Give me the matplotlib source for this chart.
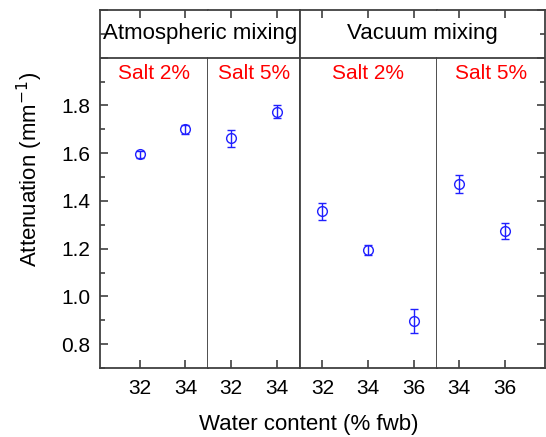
import numpy as np
import matplotlib.pyplot as plt
from matplotlib.ticker import MultipleLocator, FuncFormatter

plt.rcParams["font.family"] = ["Liberation Sans", "DejaVu Sans"]

# ---- data ----
groups = ["Atmospheric mixing", "Vacuum mixing"]
panel_labels = ["Salt 2%", "Salt 5%", "Salt 2%", "Salt 5%"]
water = [[32, 34], [32, 34], [32, 34, 36], [34, 36]]
atten = [[1.595, 1.700], [1.662, 1.774], [1.357, 1.195, 0.898], [1.470, 1.275]]
atten_err = [[0.015, 0.020], [0.035, 0.027], [0.035, 0.022, 0.050], [0.038, 0.033]]
xlims = [(30.25, 35), (31, 35), (31, 37), (33, 37.75)]

Y_LO, Y_HEAD, Y_TOP = 0.7, 2.0, 2.2
spine_c = "#404040"

fig, axes = plt.subplots(
    1, 4, figsize=(5.46, 4.37), dpi=100, sharey=True,
    gridspec_kw={"width_ratios": [hi - lo for lo, hi in xlims], "wspace": 0},
)
fig.subplots_adjust(left=0.183, right=0.998, top=0.977, bottom=0.158)

for i, ax in enumerate(axes):
    ax.errorbar(water[i], atten[i], yerr=atten_err[i], fmt="o", mfc="none",
                mec="#2020ff", ecolor="#2020ff", ms=7, mew=1.0, elinewidth=1.0,
                capsize=3, capthick=1.0, zorder=3)
    ax.set_xlim(*xlims[i])
    ax.set_ylim(Y_LO, Y_TOP)
    ax.xaxis.set_major_locator(MultipleLocator(2))
    ax.tick_params(axis="x", which="both", direction="in", top=True,
                   labelsize=15, length=6, width=1.2, color=spine_c, pad=8)
    ax.tick_params(axis="y", which="both", direction="in", left=(i == 0),
                   right=(i == 3), labelsize=15, width=1.2, color=spine_c, pad=7)
    ax.tick_params(axis="y", which="major", length=6)
    ax.tick_params(axis="y", which="minor", length=3.5)
    for s in ax.spines.values():
        s.set_color(spine_c)
        s.set_linewidth(1.3)
    ax.axhline(Y_HEAD, color=spine_c, lw=1.3, zorder=4)
    ax.text(np.mean(xlims[i]), 1.935, panel_labels[i], color="red",
            fontsize=15, ha="center", va="center")

axes[0].yaxis.set_major_locator(MultipleLocator(0.2))
axes[0].yaxis.set_minor_locator(MultipleLocator(0.1))
axes[0].yaxis.set_major_formatter(
    FuncFormatter(lambda v, p: f"{v:.1f}" if v < 1.85 else ""))

# inner dividers (1|2 and 3|4) stop at the header line
frac = (Y_HEAD - Y_LO) / (Y_TOP - Y_LO)
for a, b in [(0, 1), (2, 3)]:
    axes[a].spines["right"].set_visible(False)
    axes[b].spines["left"].set_visible(False)
    axes[a].axvline(xlims[a][1], ymin=0, ymax=frac, color=spine_c,
                    lw=1.3, clip_on=False, zorder=5)

# header labels
fig.canvas.draw()
for g, (a, b) in zip(groups, [(0, 1), (2, 3)]):
    x0 = axes[a].get_position().x0
    x1 = axes[b].get_position().x1
    yh = axes[0].transData.transform((0, 2.1))[1]
    yh = fig.transFigure.inverted().transform((0, yh))[1]
    fig.text((x0 + x1) / 2, yh, g, fontsize=16, ha="center", va="center")

fig.text(0.055, 0.611, "Attenuation (mm$^{-1}$)", fontsize=16, rotation=90,
         ha="center", va="center")
fig.text(0.566, 0.004, "Water content (% fwb)", fontsize=16,
         ha="center", va="bottom")

fig.savefig("out.png", dpi=100)
